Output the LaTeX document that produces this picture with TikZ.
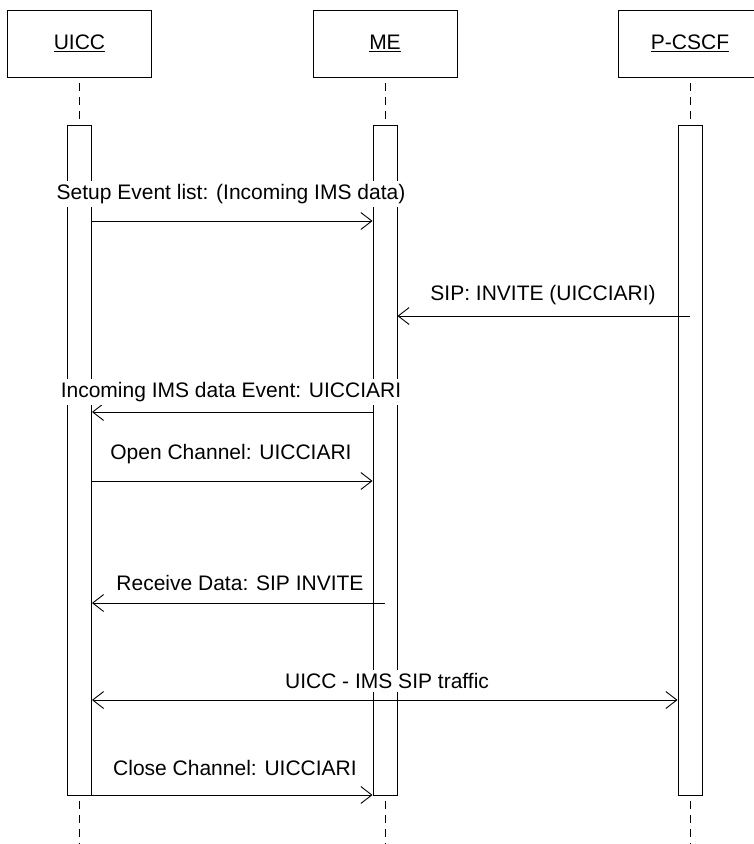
\documentclass[tikz,border=0pt]{standalone}
\usepackage{fontspec}
\setmainfont{Liberation Sans}
\usetikzlibrary{arrows.meta}

\begin{document}
\begin{tikzpicture}[x=1pt,y=-1pt,
  every node/.style={font=\fontsize{21}{25}\selectfont, inner sep=0pt},
  actor/.style={draw, line width=0.9pt, minimum width=144pt, minimum height=67pt},
  actbar/.style={draw, fill=white, line width=0.9pt, minimum width=24pt, minimum height=670pt},
  lifeline/.style={line width=0.9pt, dash pattern=on 8.5pt off 5.5pt, dash phase=8.5pt},
  barb/.tip={Straight Barb[length=11pt,width=17pt,line width=0.9pt]},
  msg/.style={line width=0.9pt, -barb},
  bimsg/.style={line width=0.9pt, barb-barb},
  lbl/.style={anchor=center, fill=white, inner xsep=1pt, inner ysep=3.5pt}
]
\useasboundingbox (0,0) rectangle (754,844);

% participants
\node[actor] (uicc) at (79.5,43.5) {\underline{UICC}};
\node[actor] (me)   at (385,43.5)  {\underline{ME}};
\node[actor] (pcscf) at (690,43.5) {\underline{P-CSCF}};

% activation bars
\node[actbar] (uiccA)  at (79.5,460) {};
\node[actbar] (meA)    at (385,460)  {};
\node[actbar] (pcscfA) at (690,460)  {};

% lifelines above and below the bars
\coordinate (uiccEnd)  at (79.5,844);
\coordinate (meEnd)    at (385,844);
\coordinate (pcscfEnd) at (690,844);
\draw[lifeline] (uicc.south)  -- (uiccA.north);
\draw[lifeline] (me.south)    -- (meA.north);
\draw[lifeline] (pcscf.south) -- (pcscfA.north);
\draw[lifeline] (uiccA.south)  -- (uiccEnd);
\draw[lifeline] (meA.south)    -- (meEnd);
\draw[lifeline] (pcscfA.south) -- (pcscfEnd);

% messages
\draw[msg] (uiccA.east |- 0,221) -- (meA.west |- 0,221);
\node[lbl] (m1) at (231,194) {Setup Event list: (Incoming IMS data)};

\draw[msg] (pcscfA.center |- 0,316) -- (meA.east |- 0,316);
\node[lbl] (m2) at (543,295) {SIP: INVITE (UICCIARI)};

\draw[msg] (meA.west |- 0,412) -- (uiccA.east |- 0,412);
\node[lbl] (m3) at (231,392) {Incoming IMS data Event: UICCIARI};

\draw[msg] (uiccA.east |- 0,481) -- (meA.west |- 0,481);
\node[lbl] (m4) at (231,454) {Open Channel: UICCIARI};

\draw[msg] (meA.center |- 0,603) -- (uiccA.east |- 0,603);
\node[lbl] (m5) at (240,583) {Receive Data: SIP INVITE};

\draw[bimsg] (uiccA.east |- 0,700) -- (pcscfA.west |- 0,700);
\node[lbl] (m6) at (387,681) {UICC - IMS SIP traffic};

\draw[msg] (uiccA.east |- 0,795) -- (meA.west |- 0,795);
\node[lbl] (m7) at (235,768) {Close Channel: UICCIARI};
\end{tikzpicture}
\end{document}
